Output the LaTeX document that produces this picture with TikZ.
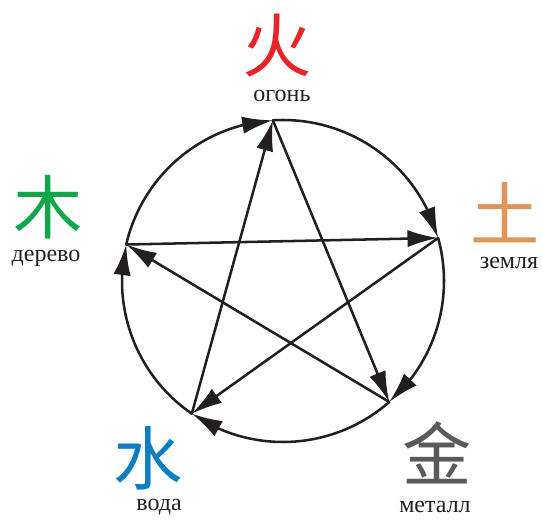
\documentclass[tikz,border=0pt]{standalone}
\usepackage{fontspec}
\setmainfont{Liberation Serif}
\newfontfamily\cjk{Noto Sans CJK SC}
\usetikzlibrary{arrows.meta,bending,positioning}
\definecolor{wxfire}{HTML}{E8232A}
\definecolor{wxearth}{HTML}{E0965A}
\definecolor{wxmetal}{HTML}{5A5A5C}
\definecolor{wxwater}{HTML}{0A7DC3}
\definecolor{wxwood}{HTML}{12A64B}
\definecolor{wxink}{HTML}{231F20}

\begin{document}
\begin{tikzpicture}[
  x=0.75pt, y=0.75pt,
  >={Latex[length=23pt,width=13pt]},
  line cap=round,
  glyph/.style={font=\cjk\fontsize{52}{52}\selectfont, inner sep=0pt},
  elemlabel/.style={font=\fontsize{18}{18}\selectfont, inner sep=0pt, text=wxink},
  flow/.style={draw=wxink, line width=1.9pt, ->},
]
\useasboundingbox (0,0) rectangle (543,519);

% ---------- the five elements ----------
\node[glyph, text=wxfire]  (firech)  at (277,473) {火};
\node[elemlabel]           (firetx)  at (282,423) {огонь};
\node[glyph, text=wxearth] (earthch) at (505,306) {土};
\node[elemlabel]           (earthtx) at (509,256) {земля};
\node[glyph, text=wxmetal] (metalch) at (437,66)  {金};
\node[elemlabel]           (metaltx) at (435,12)  {металл};
\node[glyph, text=wxwater] (waterch) at (148,61)  {水};
\node[elemlabel]           (watertx) at (159,12)  {вода};
\node[glyph, text=wxwood]  (woodch)  at (48,312)  {木};
\node[elemlabel]           (woodtx)  at (46,261)  {дерево};

% ---------- circle and star ----------
\begin{scope}[shift={(283,238)}]
  \coordinate (fire)  at (93.6:161);
  \coordinate (earth) at (15.5:161);
  \coordinate (metal) at (-48.7:161);
  \coordinate (water) at (-124.5:161);
  \coordinate (wood)  at (166.9:161);

  % generating cycle
  \draw[flow] (wood)  arc[start angle=166.9, end angle=93.6, radius=161];
  \draw[flow] (fire)  arc[start angle=93.6, end angle=15.5, radius=161];
  \draw[flow] (earth) arc[start angle=15.5, end angle=-48.7, radius=161];
  \draw[flow] (metal) arc[start angle=-48.7, end angle=-124.5, radius=161];
  \draw[flow] (water) arc[start angle=-124.5, end angle=-193.1, radius=161];

  % controlling cycle
  \draw[flow] (fire)  -- (metal);
  \draw[flow] (metal) -- (wood);
  \draw[flow] (wood)  -- (earth);
  \draw[flow] (earth) -- (water);
  \draw[flow] (water) -- (fire);
\end{scope}
\end{tikzpicture}
\end{document}
